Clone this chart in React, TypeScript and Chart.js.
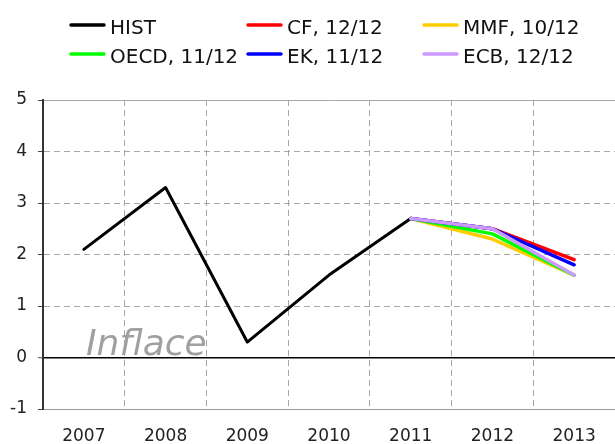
import React, { useEffect, useRef } from "react";
import { Chart, registerables } from "chart.js";

Chart.register(...registerables);

// ---- data ----
const years = ["2007", "2008", "2009", "2010", "2011", "2012", "2013"];
const hist = [2.1, 3.3, 0.3, 1.6, 2.7, null, null];
const cf = [null, null, null, null, 2.7, 2.5, 1.9];
const mmf = [null, null, null, null, 2.7, 2.3, 1.6];
const oecd = [null, null, null, null, 2.7, 2.4, 1.6];
const ek = [null, null, null, null, 2.7, 2.5, 1.8];
const ecb = [null, null, null, null, 2.7, 2.5, 1.6];
const seriesLabels = ["HIST", "CF, 12/12", "MMF, 10/12", "OECD, 11/12", "EK, 11/12", "ECB, 12/12"];
const seriesColors = ["#000000", "#ff0000", "#ffcc00", "#00ff00", "#0000ff", "#cc99ff"];
const seriesValues = [hist, cf, mmf, oecd, ek, ecb];
const yMin = -1;
const yMax = 5;
const yStep = 1;
const watermark = "Inflace";

const FONT = '"DejaVu Sans", Verdana, sans-serif';

const legendPlugin = {
  id: "customLegend",
  afterDraw(chart: any) {
    const ctx = chart.ctx;
    const cols = [70, 247, 423];
    const rows = [25, 54];
    chart.data.datasets.forEach((ds: any, i: number) => {
      const x = cols[i % 3];
      const y = rows[Math.floor(i / 3)];
      ctx.save();
      ctx.strokeStyle = ds.borderColor;
      ctx.lineWidth = 3.5;
      ctx.lineCap = "round";
      ctx.beginPath();
      ctx.moveTo(x + 1, y);
      ctx.lineTo(x + 34, y);
      ctx.stroke();
      ctx.fillStyle = "#111";
      ctx.font = `20px ${FONT}`;
      ctx.textBaseline = "alphabetic";
      ctx.textAlign = "left";
      ctx.fillText(ds.label, x + 40, y + 9);
      ctx.restore();
    });
  },
};

const watermarkPlugin = {
  id: "watermark",
  beforeDatasetsDraw(chart: any) {
    const ctx = chart.ctx;
    const yz = chart.scales.y.getPixelForValue(0);
    ctx.save();
    ctx.fillStyle = "#a0a0a0";
    ctx.font = `italic 36px ${FONT}`;
    ctx.textBaseline = "alphabetic";
    ctx.textAlign = "left";
    ctx.fillText(watermark, chart.chartArea.left + 43, yz - 3);
    ctx.restore();
  },
};

export default function App() {
  const ref = useRef<HTMLCanvasElement | null>(null);

  useEffect(() => {
    if (!ref.current) return;
    const chart = new Chart(ref.current, {
      type: "line",
      data: {
        labels: years,
        datasets: seriesValues.map((vals, i) => ({
          label: seriesLabels[i],
          data: vals,
          borderColor: seriesColors[i],
          backgroundColor: seriesColors[i],
          borderWidth: i === 0 ? 3 : 3.5,
          pointRadius: 0,
          pointHoverRadius: 0,
          tension: 0,
          spanGaps: false,
          borderJoinStyle: "round",
          borderCapStyle: "round",
          order: seriesValues.length - 1 - i,
        })),
      },
      options: {
        responsive: false,
        animation: false,
        layout: { padding: { top: 100, left: 0, right: 0, bottom: 0 } },
        plugins: {
          legend: { display: false },
          tooltip: { enabled: false },
        },
        scales: {
          x: {
            offset: true,
            grid: {
              offset: true,
              drawTicks: false,
              color: (c: any) => (c.index === 0 ? "rgba(0,0,0,0)" : "#a6a6a6"),
              lineWidth: 1,
            },
            border: {
              display: true,
              color: "#999999",
              width: 1,
              dash: (c: any) => (c.tick ? [6, 4] : []),
            },
            ticks: {
              color: "#222",
              font: { family: FONT, size: 17 },
              padding: 17,
              maxRotation: 0,
              autoSkip: false,
            },
            afterFit: (s: any) => {
              s.height = 35;
            },
          },
          y: {
            min: yMin,
            max: yMax,
            ticks: {
              stepSize: yStep,
              color: "#222",
              font: { family: FONT, size: 17 },
              padding: 11,
            },
            grid: {
              color: (c: any) => (c.tick && c.tick.value === 0 ? "#000000" : "#a6a6a6"),
              lineWidth: (c: any) => (c.tick && c.tick.value === 0 ? 1.5 : 1),
              tickLength: 5,
              tickColor: "#444",
              tickWidth: 1,
              tickBorderDash: [],
            },
            border: {
              display: true,
              color: "#333333",
              width: 2,
              dash: (c: any) =>
                c.tick && c.tick.value !== 0 && c.tick.value !== yMin && c.tick.value !== yMax
                  ? [6, 4]
                  : [],
            },
            afterFit: (s: any) => {
              s.width = 43;
            },
          },
        },
      },
      plugins: [watermarkPlugin, legendPlugin],
    } as any);
    return () => chart.destroy();
  }, []);

  return (
    <div style={{ position: "fixed", left: 0, top: 0, width: 615, height: 444, overflow: "hidden", background: "#fff" }}>
      <canvas ref={ref} width={615} height={444} style={{ display: "block" }} />
    </div>
  );
}
